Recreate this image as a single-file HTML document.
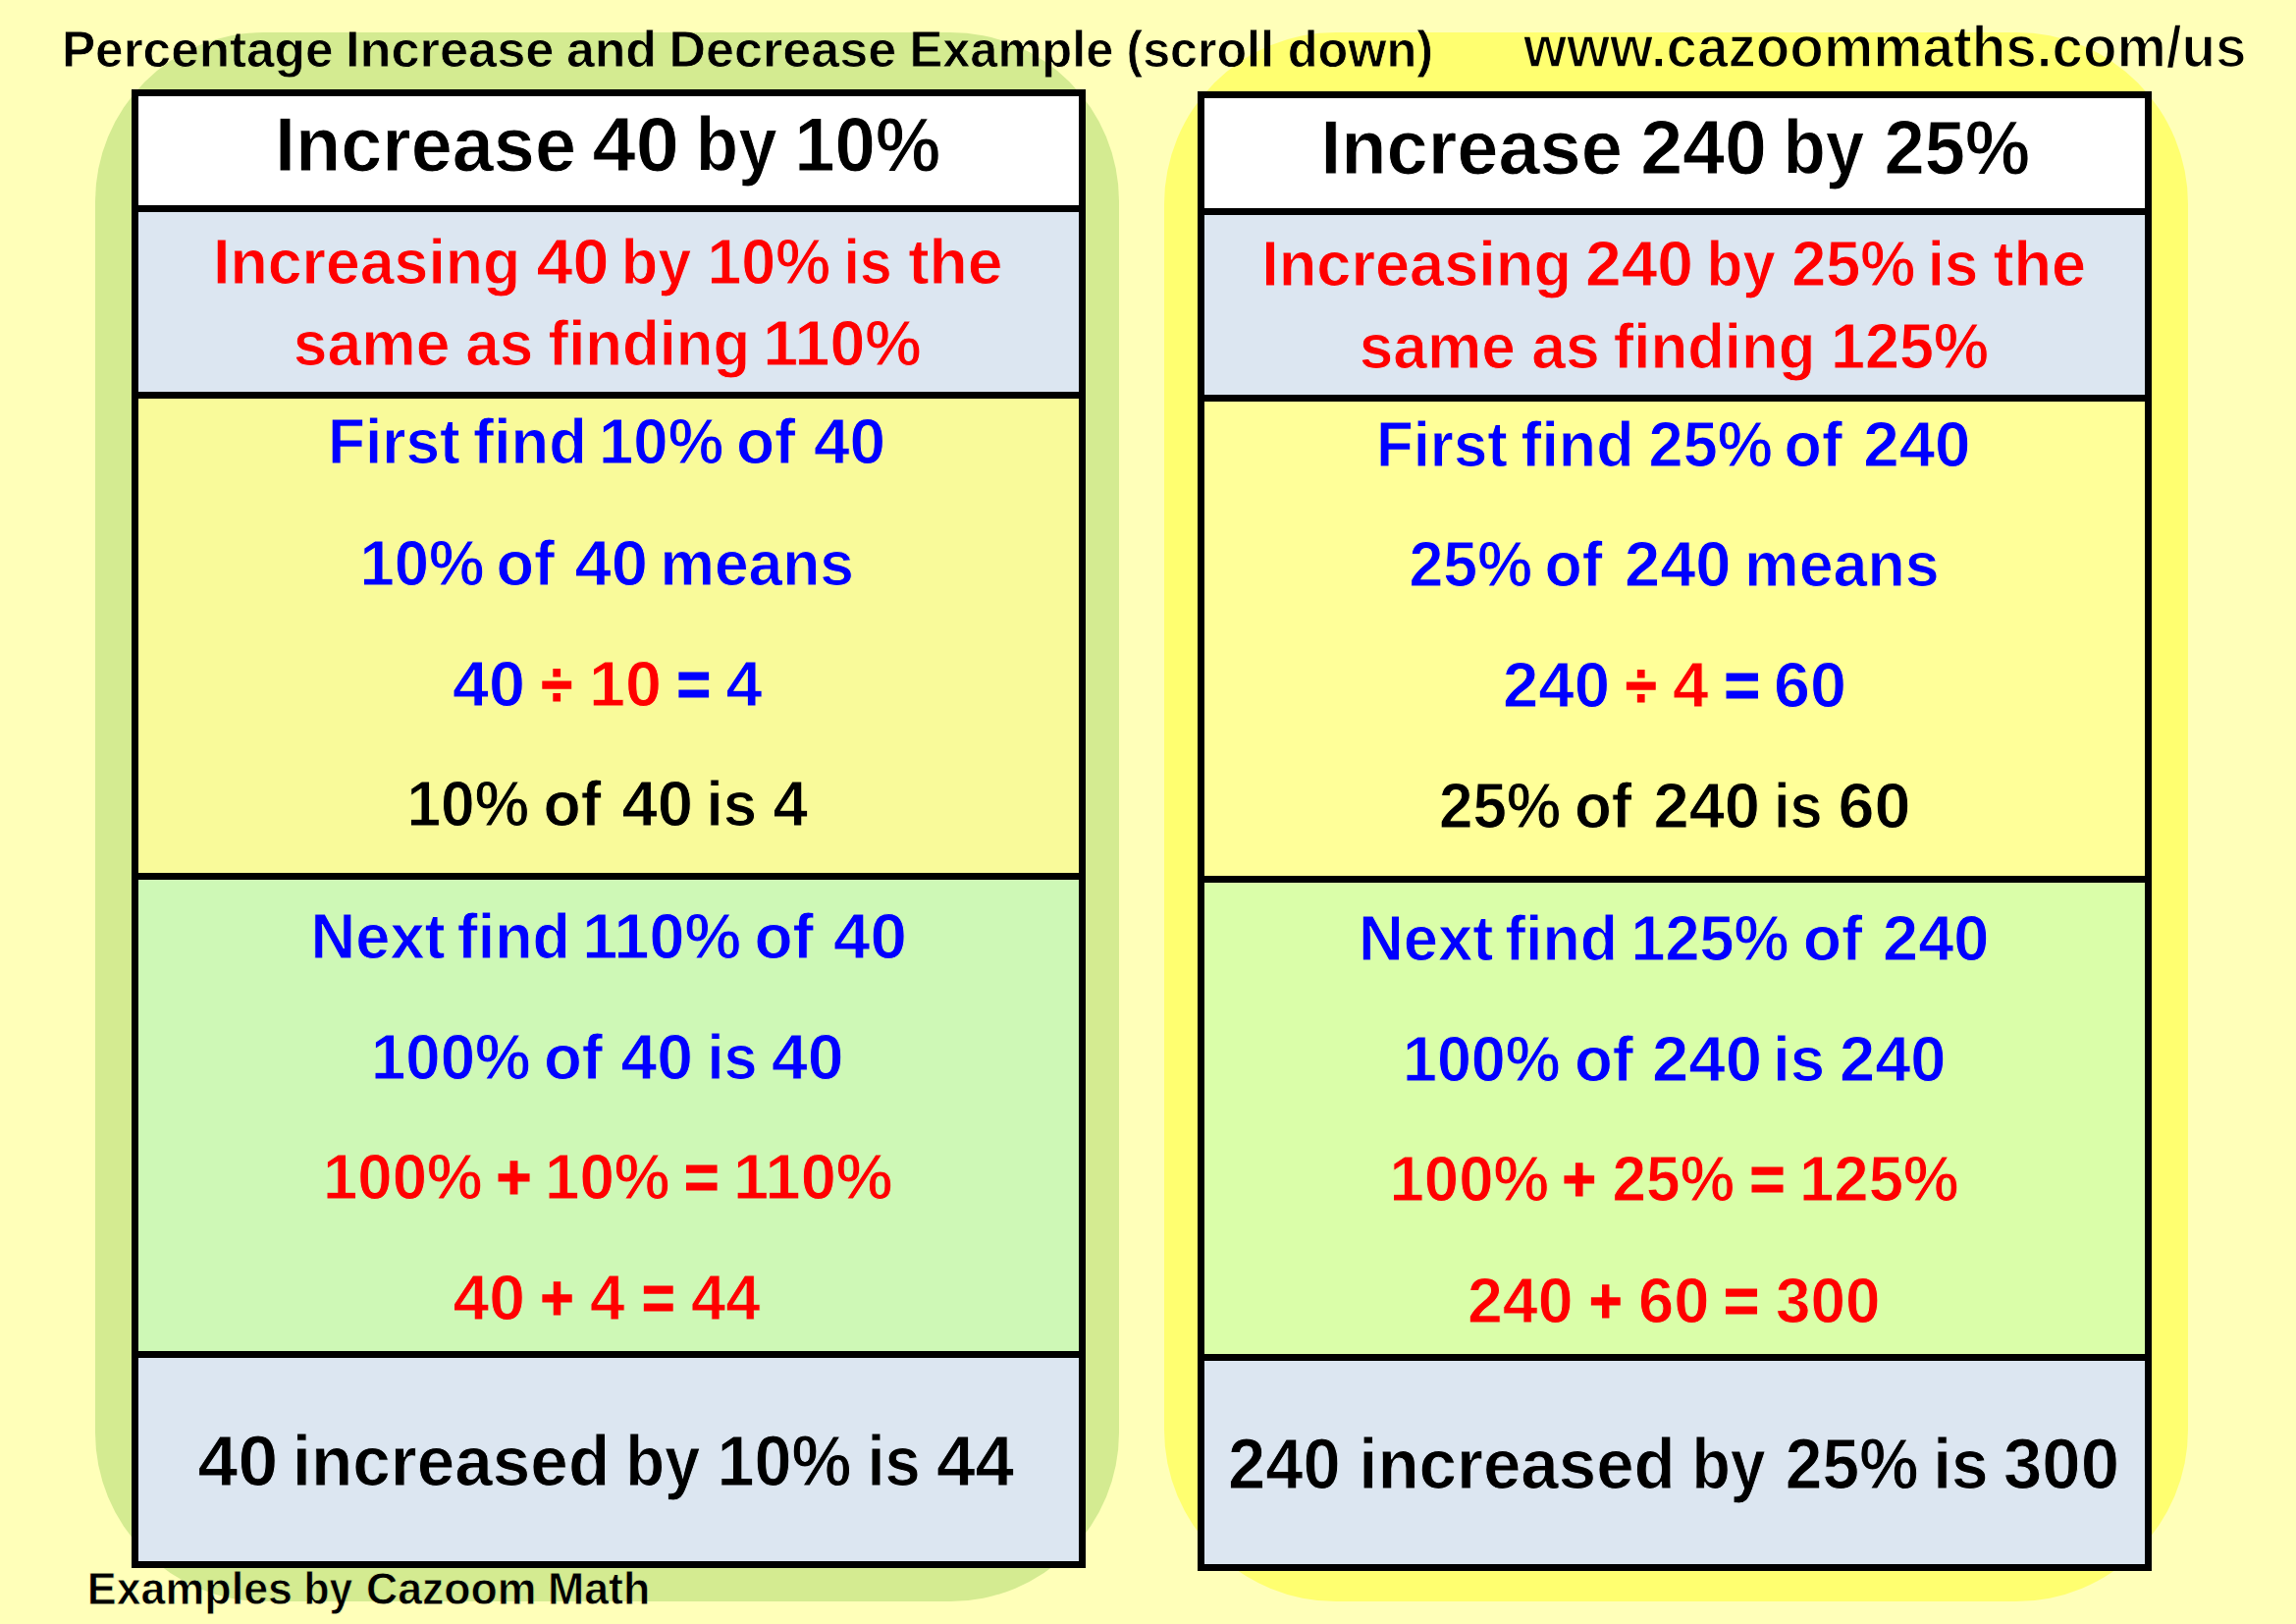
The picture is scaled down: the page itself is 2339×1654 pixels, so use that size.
<!DOCTYPE html>
<html><head><meta charset="utf-8"><title>Percentage Increase Example</title>
<style>
html,body{margin:0;padding:0;background:#FFFFB9;}
body{width:2339px;height:1654px;overflow:hidden;}
svg{display:block;}
text{font-family:"Liberation Sans",sans-serif;font-weight:bold;}
</style></head><body>
<svg width="2339" height="1654" viewBox="0 0 2339 1654">
<defs><g id="bg">
<rect x="0" y="0" width="2339" height="1654" fill="#FFFFB9"/>
<rect x="97" y="33" width="1043" height="1598" rx="172" ry="172" fill="#D4EB91"/>
<rect x="1186" y="33" width="1043" height="1598" rx="175" ry="175" fill="#FFFF70"/>
<rect x="134" y="91" width="972" height="118" fill="#FFFFFF"/>
<rect x="134" y="209" width="972" height="190" fill="#DCE6F1"/>
<rect x="134" y="399" width="972" height="490" fill="#F9FA9A"/>
<rect x="134" y="889" width="972" height="487" fill="#CEF8B6"/>
<rect x="134" y="1376" width="972" height="214" fill="#DCE6F1"/>
<rect x="134" y="91" width="972" height="7" fill="#000"/>
<rect x="134" y="209" width="972" height="7" fill="#000"/>
<rect x="134" y="399" width="972" height="7" fill="#000"/>
<rect x="134" y="889" width="972" height="7" fill="#000"/>
<rect x="134" y="1376" width="972" height="7" fill="#000"/>
<rect x="134" y="1590" width="972" height="7" fill="#000"/>
<rect x="134" y="91" width="7" height="1506" fill="#000"/>
<rect x="1099" y="91" width="7" height="1506" fill="#000"/>
<rect x="1220" y="93" width="972" height="119" fill="#FFFFFF"/>
<rect x="1220" y="212" width="972" height="190" fill="#DCE6F1"/>
<rect x="1220" y="402" width="972" height="490" fill="#FFFF99"/>
<rect x="1220" y="892" width="972" height="487" fill="#DAFEA9"/>
<rect x="1220" y="1379" width="972" height="214" fill="#DCE6F1"/>
<rect x="1220" y="93" width="972" height="7" fill="#000"/>
<rect x="1220" y="212" width="972" height="7" fill="#000"/>
<rect x="1220" y="402" width="972" height="7" fill="#000"/>
<rect x="1220" y="892" width="972" height="7" fill="#000"/>
<rect x="1220" y="1379" width="972" height="7" fill="#000"/>
<rect x="1220" y="1593" width="972" height="7" fill="#000"/>
<rect x="1220" y="93" width="7" height="1507" fill="#000"/>
<rect x="2185" y="93" width="7" height="1507" fill="#000"/>
</g>
<pattern id="bgp" patternUnits="userSpaceOnUse" x="0" y="0" width="2339" height="1654"><use href="#bg"/></pattern></defs>
<use href="#bg"/>
<text x="62.9" y="67.6" font-size="52.62" textLength="276.6" lengthAdjust="spacingAndGlyphs" stroke="url(#bgp)" stroke-width="0.8" fill="#000000">Percentage</text>
<text x="351.9" y="67.6" font-size="52.62" textLength="212.5" lengthAdjust="spacingAndGlyphs" stroke="url(#bgp)" stroke-width="0.8" fill="#000000">Increase</text>
<text x="576.9" y="67.6" font-size="52.62" textLength="92.1" lengthAdjust="spacingAndGlyphs" stroke="url(#bgp)" stroke-width="0.8" fill="#000000">and</text>
<text x="681.5" y="67.6" font-size="52.62" textLength="231.6" lengthAdjust="spacingAndGlyphs" stroke="url(#bgp)" stroke-width="0.8" fill="#000000">Decrease</text>
<text x="926.5" y="67.6" font-size="52.62" textLength="207.9" lengthAdjust="spacingAndGlyphs" stroke="url(#bgp)" stroke-width="0.8" fill="#000000">Example</text>
<text x="1147.5" y="67.6" font-size="52.62" textLength="150.5" lengthAdjust="spacingAndGlyphs" stroke="url(#bgp)" stroke-width="0.8" fill="#000000">(scroll</text>
<text x="1311.8" y="67.6" font-size="52.62" textLength="148.2" lengthAdjust="spacingAndGlyphs" stroke="url(#bgp)" stroke-width="0.8" fill="#000000">down)</text>
<text x="1552.0" y="68.3" font-size="59.74" textLength="736.5" lengthAdjust="spacingAndGlyphs" stroke="url(#bgp)" stroke-width="1.6" xml:space="preserve"><tspan fill="#000000">www.cazoommaths.com/us</tspan></text>
<text x="88.8" y="1634.2" font-size="46.22" textLength="209.2" lengthAdjust="spacingAndGlyphs" stroke="url(#bgp)" stroke-width="0.8" fill="#000000">Examples</text>
<text x="309.6" y="1634.2" font-size="46.22" textLength="49.7" lengthAdjust="spacingAndGlyphs" stroke="url(#bgp)" stroke-width="0.8" fill="#000000">by</text>
<text x="372.9" y="1634.2" font-size="46.22" textLength="173.7" lengthAdjust="spacingAndGlyphs" stroke="url(#bgp)" stroke-width="0.8" fill="#000000">Cazoom</text>
<text x="558.0" y="1634.2" font-size="46.22" textLength="104.3" lengthAdjust="spacingAndGlyphs" stroke="url(#bgp)" stroke-width="0.8" fill="#000000">Math</text>
<text x="280.0" y="173.9" font-size="77.91" textLength="307.0" lengthAdjust="spacingAndGlyphs" stroke="url(#bgp)" stroke-width="1.0" fill="#000000">Increase</text>
<text x="603.6" y="173.9" font-size="77.91" textLength="88.2" lengthAdjust="spacingAndGlyphs" stroke="url(#bgp)" stroke-width="1.0" fill="#000000">40</text>
<text x="708.8" y="173.9" font-size="77.91" textLength="82.8" lengthAdjust="spacingAndGlyphs" stroke="url(#bgp)" stroke-width="1.0" fill="#000000">by</text>
<text x="809.2" y="173.9" font-size="77.91" textLength="149.0" lengthAdjust="spacingAndGlyphs" stroke="url(#bgp)" stroke-width="1.0" fill="#000000">10%</text>
<text x="217.0" y="288.5" font-size="64.68" textLength="313.4" lengthAdjust="spacingAndGlyphs" stroke="url(#bgp)" stroke-width="1.0" fill="#FF0000">Increasing</text>
<text x="546.4" y="288.5" font-size="64.68" textLength="74.0" lengthAdjust="spacingAndGlyphs" stroke="url(#bgp)" stroke-width="1.0" fill="#FF0000">40</text>
<text x="632.8" y="288.5" font-size="64.68" textLength="71.6" lengthAdjust="spacingAndGlyphs" stroke="url(#bgp)" stroke-width="1.0" fill="#FF0000">by</text>
<text x="720.4" y="288.5" font-size="64.68" textLength="125.6" lengthAdjust="spacingAndGlyphs" stroke="url(#bgp)" stroke-width="1.0" fill="#FF0000">10%</text>
<text x="859.4" y="288.5" font-size="64.68" textLength="49.4" lengthAdjust="spacingAndGlyphs" stroke="url(#bgp)" stroke-width="1.0" fill="#FF0000">is</text>
<text x="925.2" y="288.5" font-size="64.68" textLength="96.4" lengthAdjust="spacingAndGlyphs" stroke="url(#bgp)" stroke-width="1.0" fill="#FF0000">the</text>
<text x="298.8" y="371.9" font-size="64.68" textLength="159.6" lengthAdjust="spacingAndGlyphs" stroke="url(#bgp)" stroke-width="1.0" fill="#FF0000">same</text>
<text x="474.2" y="371.9" font-size="64.68" textLength="69.0" lengthAdjust="spacingAndGlyphs" stroke="url(#bgp)" stroke-width="1.0" fill="#FF0000">as</text>
<text x="558.6" y="371.9" font-size="64.68" textLength="205.6" lengthAdjust="spacingAndGlyphs" stroke="url(#bgp)" stroke-width="1.0" fill="#FF0000">finding</text>
<text x="777.2" y="371.9" font-size="64.68" textLength="161.6" lengthAdjust="spacingAndGlyphs" stroke="url(#bgp)" stroke-width="1.0" fill="#FF0000">110%</text>
<text x="334.0" y="472.4" font-size="64.68" textLength="134.8" lengthAdjust="spacingAndGlyphs" stroke="url(#bgp)" stroke-width="1.0" fill="#0000FF">First</text>
<text x="482.0" y="472.4" font-size="64.68" textLength="115.8" lengthAdjust="spacingAndGlyphs" stroke="url(#bgp)" stroke-width="1.0" fill="#0000FF">find</text>
<text x="610.0" y="472.4" font-size="64.68" textLength="127.2" lengthAdjust="spacingAndGlyphs" stroke="url(#bgp)" stroke-width="1.0" fill="#0000FF">10%</text>
<text x="750.0" y="472.4" font-size="64.68" textLength="60.4" lengthAdjust="spacingAndGlyphs" stroke="url(#bgp)" stroke-width="1.0" fill="#0000FF">of</text>
<text x="829.0" y="472.4" font-size="64.68" textLength="73.2" lengthAdjust="spacingAndGlyphs" stroke="url(#bgp)" stroke-width="1.0" fill="#0000FF">40</text>
<text x="366.5" y="595.9" font-size="64.68" textLength="127.0" lengthAdjust="spacingAndGlyphs" stroke="url(#bgp)" stroke-width="1.0" fill="#0000FF">10%</text>
<text x="505.5" y="595.9" font-size="64.68" textLength="59.5" lengthAdjust="spacingAndGlyphs" stroke="url(#bgp)" stroke-width="1.0" fill="#0000FF">of</text>
<text x="585.5" y="595.9" font-size="64.68" textLength="74.5" lengthAdjust="spacingAndGlyphs" stroke="url(#bgp)" stroke-width="1.0" fill="#0000FF">40</text>
<text x="672.5" y="595.9" font-size="64.68" textLength="197.5" lengthAdjust="spacingAndGlyphs" stroke="url(#bgp)" stroke-width="1.0" fill="#0000FF">means</text>
<text x="461.0" y="718.5" font-size="64.68" textLength="74.0" lengthAdjust="spacingAndGlyphs" stroke="url(#bgp)" stroke-width="1.0" fill="#0000FF">40</text>
<text x="551.5" y="718.5" font-size="64.68" textLength="31.5" lengthAdjust="spacingAndGlyphs" stroke="#FF0000" stroke-width="1.2" fill="#FF0000">÷</text>
<text x="600.0" y="718.5" font-size="64.68" textLength="74.0" lengthAdjust="spacingAndGlyphs" stroke="url(#bgp)" stroke-width="1.0" fill="#FF0000">10</text>
<text x="689.5" y="718.5" font-size="64.68" textLength="34.5" lengthAdjust="spacingAndGlyphs" stroke="#0000FF" stroke-width="1.2" fill="#0000FF">=</text>
<text x="739.5" y="718.5" font-size="64.68" textLength="37.0" lengthAdjust="spacingAndGlyphs" stroke="url(#bgp)" stroke-width="1.0" fill="#0000FF">4</text>
<text x="414.5" y="840.5" font-size="64.68" textLength="124.5" lengthAdjust="spacingAndGlyphs" stroke="url(#bgp)" stroke-width="1.0" fill="#000000">10%</text>
<text x="553.5" y="840.5" font-size="64.68" textLength="59.0" lengthAdjust="spacingAndGlyphs" stroke="url(#bgp)" stroke-width="1.0" fill="#000000">of</text>
<text x="633.5" y="840.5" font-size="64.68" textLength="72.5" lengthAdjust="spacingAndGlyphs" stroke="url(#bgp)" stroke-width="1.0" fill="#000000">40</text>
<text x="719.5" y="840.5" font-size="64.68" textLength="51.5" lengthAdjust="spacingAndGlyphs" stroke="url(#bgp)" stroke-width="1.0" fill="#000000">is</text>
<text x="787.5" y="840.5" font-size="64.68" textLength="35.5" lengthAdjust="spacingAndGlyphs" stroke="url(#bgp)" stroke-width="1.0" fill="#000000">4</text>
<text x="316.6" y="975.8" font-size="64.68" textLength="137.0" lengthAdjust="spacingAndGlyphs" stroke="url(#bgp)" stroke-width="1.0" fill="#0000FF">Next</text>
<text x="465.8" y="975.8" font-size="64.68" textLength="115.2" lengthAdjust="spacingAndGlyphs" stroke="url(#bgp)" stroke-width="1.0" fill="#0000FF">find</text>
<text x="593.2" y="975.8" font-size="64.68" textLength="161.8" lengthAdjust="spacingAndGlyphs" stroke="url(#bgp)" stroke-width="1.0" fill="#0000FF">110%</text>
<text x="768.4" y="975.8" font-size="64.68" textLength="60.4" lengthAdjust="spacingAndGlyphs" stroke="url(#bgp)" stroke-width="1.0" fill="#0000FF">of</text>
<text x="849.0" y="975.8" font-size="64.68" textLength="74.8" lengthAdjust="spacingAndGlyphs" stroke="url(#bgp)" stroke-width="1.0" fill="#0000FF">40</text>
<text x="378.0" y="1099.0" font-size="64.68" textLength="162.5" lengthAdjust="spacingAndGlyphs" stroke="url(#bgp)" stroke-width="1.0" fill="#0000FF">100%</text>
<text x="554.0" y="1099.0" font-size="64.68" textLength="60.0" lengthAdjust="spacingAndGlyphs" stroke="url(#bgp)" stroke-width="1.0" fill="#0000FF">of</text>
<text x="632.5" y="1099.0" font-size="64.68" textLength="73.5" lengthAdjust="spacingAndGlyphs" stroke="url(#bgp)" stroke-width="1.0" fill="#0000FF">40</text>
<text x="720.5" y="1099.0" font-size="64.68" textLength="51.0" lengthAdjust="spacingAndGlyphs" stroke="url(#bgp)" stroke-width="1.0" fill="#0000FF">is</text>
<text x="786.0" y="1099.0" font-size="64.68" textLength="73.5" lengthAdjust="spacingAndGlyphs" stroke="url(#bgp)" stroke-width="1.0" fill="#0000FF">40</text>
<text x="329.0" y="1221.3" font-size="64.68" textLength="162.5" lengthAdjust="spacingAndGlyphs" stroke="url(#bgp)" stroke-width="1.0" fill="#FF0000">100%</text>
<text x="505.5" y="1221.3" font-size="64.68" textLength="36.0" lengthAdjust="spacingAndGlyphs" stroke="#FF0000" stroke-width="1.2" fill="#FF0000">+</text>
<text x="555.0" y="1221.3" font-size="64.68" textLength="127.5" lengthAdjust="spacingAndGlyphs" stroke="url(#bgp)" stroke-width="1.0" fill="#FF0000">10%</text>
<text x="697.0" y="1221.3" font-size="64.68" textLength="35.5" lengthAdjust="spacingAndGlyphs" stroke="#FF0000" stroke-width="1.2" fill="#FF0000">=</text>
<text x="747.0" y="1221.3" font-size="64.68" textLength="162.5" lengthAdjust="spacingAndGlyphs" stroke="url(#bgp)" stroke-width="1.0" fill="#FF0000">110%</text>
<text x="461.5" y="1344.0" font-size="64.68" textLength="73.5" lengthAdjust="spacingAndGlyphs" stroke="url(#bgp)" stroke-width="1.0" fill="#FF0000">40</text>
<text x="550.5" y="1344.0" font-size="64.68" textLength="34.0" lengthAdjust="spacingAndGlyphs" stroke="#FF0000" stroke-width="1.2" fill="#FF0000">+</text>
<text x="601.0" y="1344.0" font-size="64.68" textLength="35.5" lengthAdjust="spacingAndGlyphs" stroke="url(#bgp)" stroke-width="1.0" fill="#FF0000">4</text>
<text x="654.0" y="1344.0" font-size="64.68" textLength="33.5" lengthAdjust="spacingAndGlyphs" stroke="#FF0000" stroke-width="1.2" fill="#FF0000">=</text>
<text x="704.0" y="1344.0" font-size="64.68" textLength="70.5" lengthAdjust="spacingAndGlyphs" stroke="url(#bgp)" stroke-width="1.0" fill="#FF0000">44</text>
<text x="201.6" y="1512.5" font-size="71.66" textLength="81.6" lengthAdjust="spacingAndGlyphs" stroke="url(#bgp)" stroke-width="1.0" fill="#000000">40</text>
<text x="297.8" y="1512.5" font-size="71.66" textLength="323.4" lengthAdjust="spacingAndGlyphs" stroke="url(#bgp)" stroke-width="1.0" fill="#000000">increased</text>
<text x="637.2" y="1512.5" font-size="71.66" textLength="76.2" lengthAdjust="spacingAndGlyphs" stroke="url(#bgp)" stroke-width="1.0" fill="#000000">by</text>
<text x="730.4" y="1512.5" font-size="71.66" textLength="137.0" lengthAdjust="spacingAndGlyphs" stroke="url(#bgp)" stroke-width="1.0" fill="#000000">10%</text>
<text x="883.4" y="1512.5" font-size="71.66" textLength="54.2" lengthAdjust="spacingAndGlyphs" stroke="url(#bgp)" stroke-width="1.0" fill="#000000">is</text>
<text x="954.0" y="1512.5" font-size="71.66" textLength="79.2" lengthAdjust="spacingAndGlyphs" stroke="url(#bgp)" stroke-width="1.0" fill="#000000">44</text>
<text x="1345.2" y="176.9" font-size="77.91" textLength="307.8" lengthAdjust="spacingAndGlyphs" stroke="url(#bgp)" stroke-width="1.0" fill="#000000">Increase</text>
<text x="1671.2" y="176.9" font-size="77.91" textLength="128.8" lengthAdjust="spacingAndGlyphs" stroke="url(#bgp)" stroke-width="1.0" fill="#000000">240</text>
<text x="1816.4" y="176.9" font-size="77.91" textLength="82.8" lengthAdjust="spacingAndGlyphs" stroke="url(#bgp)" stroke-width="1.0" fill="#000000">by</text>
<text x="1919.4" y="176.9" font-size="77.91" textLength="148.6" lengthAdjust="spacingAndGlyphs" stroke="url(#bgp)" stroke-width="1.0" fill="#000000">25%</text>
<text x="1285.2" y="291.4" font-size="64.68" textLength="315.8" lengthAdjust="spacingAndGlyphs" stroke="url(#bgp)" stroke-width="1.0" fill="#FF0000">Increasing</text>
<text x="1615.0" y="291.4" font-size="64.68" textLength="110.0" lengthAdjust="spacingAndGlyphs" stroke="url(#bgp)" stroke-width="1.0" fill="#FF0000">240</text>
<text x="1738.4" y="291.4" font-size="64.68" textLength="70.4" lengthAdjust="spacingAndGlyphs" stroke="url(#bgp)" stroke-width="1.0" fill="#FF0000">by</text>
<text x="1825.2" y="291.4" font-size="64.68" textLength="126.2" lengthAdjust="spacingAndGlyphs" stroke="url(#bgp)" stroke-width="1.0" fill="#FF0000">25%</text>
<text x="1963.8" y="291.4" font-size="64.68" textLength="51.4" lengthAdjust="spacingAndGlyphs" stroke="url(#bgp)" stroke-width="1.0" fill="#FF0000">is</text>
<text x="2030.6" y="291.4" font-size="64.68" textLength="94.6" lengthAdjust="spacingAndGlyphs" stroke="url(#bgp)" stroke-width="1.0" fill="#FF0000">the</text>
<text x="1384.8" y="375.0" font-size="64.68" textLength="159.0" lengthAdjust="spacingAndGlyphs" stroke="url(#bgp)" stroke-width="1.0" fill="#FF0000">same</text>
<text x="1560.2" y="375.0" font-size="64.68" textLength="69.4" lengthAdjust="spacingAndGlyphs" stroke="url(#bgp)" stroke-width="1.0" fill="#FF0000">as</text>
<text x="1643.8" y="375.0" font-size="64.68" textLength="205.6" lengthAdjust="spacingAndGlyphs" stroke="url(#bgp)" stroke-width="1.0" fill="#FF0000">finding</text>
<text x="1865.0" y="375.0" font-size="64.68" textLength="161.0" lengthAdjust="spacingAndGlyphs" stroke="url(#bgp)" stroke-width="1.0" fill="#FF0000">125%</text>
<text x="1402.0" y="475.2" font-size="64.68" textLength="133.8" lengthAdjust="spacingAndGlyphs" stroke="url(#bgp)" stroke-width="1.0" fill="#0000FF">First</text>
<text x="1549.6" y="475.2" font-size="64.68" textLength="114.8" lengthAdjust="spacingAndGlyphs" stroke="url(#bgp)" stroke-width="1.0" fill="#0000FF">find</text>
<text x="1679.6" y="475.2" font-size="64.68" textLength="126.2" lengthAdjust="spacingAndGlyphs" stroke="url(#bgp)" stroke-width="1.0" fill="#0000FF">25%</text>
<text x="1817.6" y="475.2" font-size="64.68" textLength="59.2" lengthAdjust="spacingAndGlyphs" stroke="url(#bgp)" stroke-width="1.0" fill="#0000FF">of</text>
<text x="1898.2" y="475.2" font-size="64.68" textLength="109.4" lengthAdjust="spacingAndGlyphs" stroke="url(#bgp)" stroke-width="1.0" fill="#0000FF">240</text>
<text x="1435.5" y="597.3" font-size="64.68" textLength="125.5" lengthAdjust="spacingAndGlyphs" stroke="url(#bgp)" stroke-width="1.0" fill="#0000FF">25%</text>
<text x="1573.5" y="597.3" font-size="64.68" textLength="59.0" lengthAdjust="spacingAndGlyphs" stroke="url(#bgp)" stroke-width="1.0" fill="#0000FF">of</text>
<text x="1655.0" y="597.3" font-size="64.68" textLength="108.5" lengthAdjust="spacingAndGlyphs" stroke="url(#bgp)" stroke-width="1.0" fill="#0000FF">240</text>
<text x="1777.0" y="597.3" font-size="64.68" textLength="198.5" lengthAdjust="spacingAndGlyphs" stroke="url(#bgp)" stroke-width="1.0" fill="#0000FF">means</text>
<text x="1531.0" y="719.9" font-size="64.68" textLength="109.0" lengthAdjust="spacingAndGlyphs" stroke="url(#bgp)" stroke-width="1.0" fill="#0000FF">240</text>
<text x="1656.0" y="719.9" font-size="64.68" textLength="31.5" lengthAdjust="spacingAndGlyphs" stroke="#FF0000" stroke-width="1.2" fill="#FF0000">÷</text>
<text x="1704.0" y="719.9" font-size="64.68" textLength="36.5" lengthAdjust="spacingAndGlyphs" stroke="url(#bgp)" stroke-width="1.0" fill="#FF0000">4</text>
<text x="1756.5" y="719.9" font-size="64.68" textLength="36.5" lengthAdjust="spacingAndGlyphs" stroke="#0000FF" stroke-width="1.2" fill="#0000FF">=</text>
<text x="1807.0" y="719.9" font-size="64.68" textLength="74.0" lengthAdjust="spacingAndGlyphs" stroke="url(#bgp)" stroke-width="1.0" fill="#0000FF">60</text>
<text x="1466.0" y="843.4" font-size="64.68" textLength="124.0" lengthAdjust="spacingAndGlyphs" stroke="url(#bgp)" stroke-width="1.0" fill="#000000">25%</text>
<text x="1604.0" y="843.4" font-size="64.68" textLength="58.5" lengthAdjust="spacingAndGlyphs" stroke="url(#bgp)" stroke-width="1.0" fill="#000000">of</text>
<text x="1684.5" y="843.4" font-size="64.68" textLength="108.5" lengthAdjust="spacingAndGlyphs" stroke="url(#bgp)" stroke-width="1.0" fill="#000000">240</text>
<text x="1807.0" y="843.4" font-size="64.68" textLength="49.5" lengthAdjust="spacingAndGlyphs" stroke="url(#bgp)" stroke-width="1.0" fill="#000000">is</text>
<text x="1872.5" y="843.4" font-size="64.68" textLength="74.0" lengthAdjust="spacingAndGlyphs" stroke="url(#bgp)" stroke-width="1.0" fill="#000000">60</text>
<text x="1384.0" y="978.2" font-size="64.68" textLength="137.4" lengthAdjust="spacingAndGlyphs" stroke="url(#bgp)" stroke-width="1.0" fill="#0000FF">Next</text>
<text x="1533.2" y="978.2" font-size="64.68" textLength="114.8" lengthAdjust="spacingAndGlyphs" stroke="url(#bgp)" stroke-width="1.0" fill="#0000FF">find</text>
<text x="1661.6" y="978.2" font-size="64.68" textLength="161.0" lengthAdjust="spacingAndGlyphs" stroke="url(#bgp)" stroke-width="1.0" fill="#0000FF">125%</text>
<text x="1836.8" y="978.2" font-size="64.68" textLength="60.6" lengthAdjust="spacingAndGlyphs" stroke="url(#bgp)" stroke-width="1.0" fill="#0000FF">of</text>
<text x="1918.0" y="978.2" font-size="64.68" textLength="108.4" lengthAdjust="spacingAndGlyphs" stroke="url(#bgp)" stroke-width="1.0" fill="#0000FF">240</text>
<text x="1429.0" y="1100.8" font-size="64.68" textLength="160.5" lengthAdjust="spacingAndGlyphs" stroke="url(#bgp)" stroke-width="1.0" fill="#0000FF">100%</text>
<text x="1604.0" y="1100.8" font-size="64.68" textLength="60.0" lengthAdjust="spacingAndGlyphs" stroke="url(#bgp)" stroke-width="1.0" fill="#0000FF">of</text>
<text x="1683.0" y="1100.8" font-size="64.68" textLength="112.0" lengthAdjust="spacingAndGlyphs" stroke="url(#bgp)" stroke-width="1.0" fill="#0000FF">240</text>
<text x="1806.0" y="1100.8" font-size="64.68" textLength="53.0" lengthAdjust="spacingAndGlyphs" stroke="url(#bgp)" stroke-width="1.0" fill="#0000FF">is</text>
<text x="1874.0" y="1100.8" font-size="64.68" textLength="108.5" lengthAdjust="spacingAndGlyphs" stroke="url(#bgp)" stroke-width="1.0" fill="#0000FF">240</text>
<text x="1415.5" y="1223.3" font-size="64.68" textLength="162.5" lengthAdjust="spacingAndGlyphs" stroke="url(#bgp)" stroke-width="1.0" fill="#FF0000">100%</text>
<text x="1591.5" y="1223.3" font-size="64.68" textLength="34.5" lengthAdjust="spacingAndGlyphs" stroke="#FF0000" stroke-width="1.2" fill="#FF0000">+</text>
<text x="1642.5" y="1223.3" font-size="64.68" textLength="124.5" lengthAdjust="spacingAndGlyphs" stroke="url(#bgp)" stroke-width="1.0" fill="#FF0000">25%</text>
<text x="1782.5" y="1223.3" font-size="64.68" textLength="36.0" lengthAdjust="spacingAndGlyphs" stroke="#FF0000" stroke-width="1.2" fill="#FF0000">=</text>
<text x="1833.0" y="1223.3" font-size="64.68" textLength="162.5" lengthAdjust="spacingAndGlyphs" stroke="url(#bgp)" stroke-width="1.0" fill="#FF0000">125%</text>
<text x="1495.0" y="1346.8" font-size="64.68" textLength="107.5" lengthAdjust="spacingAndGlyphs" stroke="url(#bgp)" stroke-width="1.0" fill="#FF0000">240</text>
<text x="1619.0" y="1346.8" font-size="64.68" textLength="33.5" lengthAdjust="spacingAndGlyphs" stroke="#FF0000" stroke-width="1.2" fill="#FF0000">+</text>
<text x="1669.0" y="1346.8" font-size="64.68" textLength="72.5" lengthAdjust="spacingAndGlyphs" stroke="url(#bgp)" stroke-width="1.0" fill="#FF0000">60</text>
<text x="1756.0" y="1346.8" font-size="64.68" textLength="36.0" lengthAdjust="spacingAndGlyphs" stroke="#FF0000" stroke-width="1.2" fill="#FF0000">=</text>
<text x="1809.0" y="1346.8" font-size="64.68" textLength="106.5" lengthAdjust="spacingAndGlyphs" stroke="url(#bgp)" stroke-width="1.0" fill="#FF0000">300</text>
<text x="1251.0" y="1515.8" font-size="71.66" textLength="114.6" lengthAdjust="spacingAndGlyphs" stroke="url(#bgp)" stroke-width="1.0" fill="#000000">240</text>
<text x="1384.2" y="1515.8" font-size="71.66" textLength="322.6" lengthAdjust="spacingAndGlyphs" stroke="url(#bgp)" stroke-width="1.0" fill="#000000">increased</text>
<text x="1723.4" y="1515.8" font-size="71.66" textLength="75.2" lengthAdjust="spacingAndGlyphs" stroke="url(#bgp)" stroke-width="1.0" fill="#000000">by</text>
<text x="1818.8" y="1515.8" font-size="71.66" textLength="135.6" lengthAdjust="spacingAndGlyphs" stroke="url(#bgp)" stroke-width="1.0" fill="#000000">25%</text>
<text x="1969.2" y="1515.8" font-size="71.66" textLength="56.4" lengthAdjust="spacingAndGlyphs" stroke="url(#bgp)" stroke-width="1.0" fill="#000000">is</text>
<text x="2041.0" y="1515.8" font-size="71.66" textLength="118.0" lengthAdjust="spacingAndGlyphs" stroke="url(#bgp)" stroke-width="1.0" fill="#000000">300</text>
</svg>
</body></html>
